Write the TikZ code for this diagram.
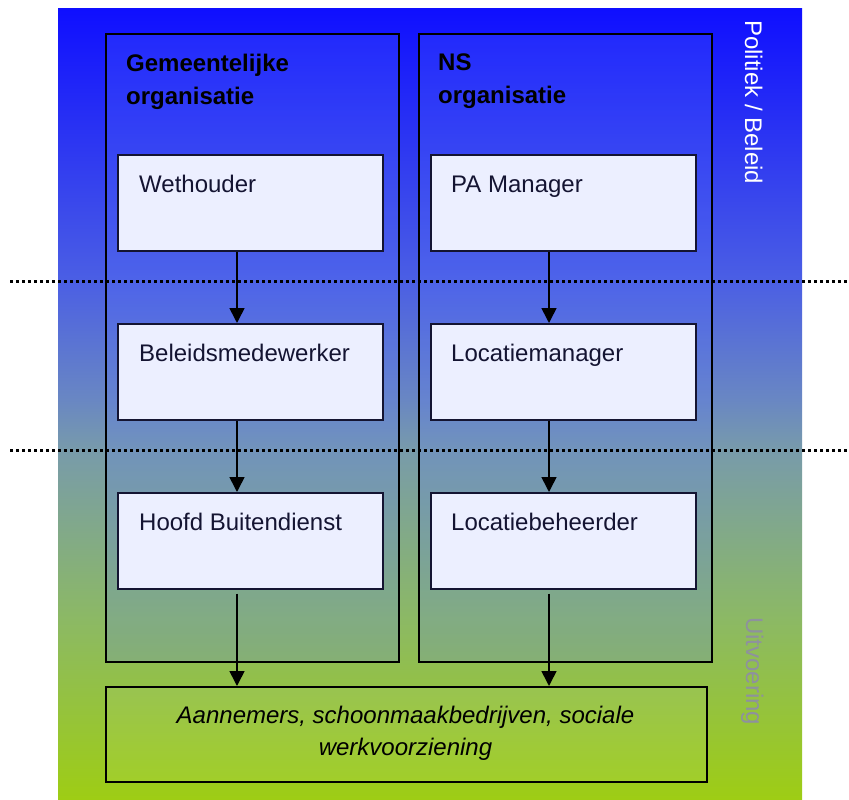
\documentclass[tikz,border=0pt]{standalone}
\usepackage{fontspec}
\setmainfont{Liberation Sans}
\usetikzlibrary{arrows.meta}
\definecolor{bgA}{RGB}{158,205,20}
\definecolor{bgB}{RGB}{140,185,100}
\definecolor{bgC}{RGB}{120,155,170}
\definecolor{bgC2}{RGB}{105,135,195}
\definecolor{bgD}{RGB}{75,95,228}
\definecolor{bgE}{RGB}{15,15,255}
\definecolor{colfill}{RGB}{90,120,255}
\definecolor{rolefill}{RGB}{236,239,255}
\definecolor{roletext}{RGB}{20,20,50}
\definecolor{uitcol}{RGB}{142,145,158}
\pgfdeclareverticalshading{bgshade}{100bp}{color(0bp)=(bgA); color(25bp)=(bgA); color(36.4bp)=(bgB); color(47.1bp)=(bgC); color(50.3bp)=(bgC2); color(57.8bp)=(bgD); color(75bp)=(bgE); color(100bp)=(bgE)}
\newcommand\myfs{\fontsize{24}{33.5}\selectfont}
\newcommand\myfsb{\fontsize{24}{32.3}\selectfont}
\tikzset{
  col/.style={draw=black, line width=1.6pt, fill=colfill, fill opacity=0.2, text opacity=1, minimum width=293pt, minimum height=628pt, anchor=north west, inner sep=0pt},
  role/.style={draw=roletext, line width=1.5pt, fill=rolefill, minimum width=265pt, minimum height=96pt, anchor=north west, inner sep=0pt},
  roletxt/.style={anchor=base west, inner sep=0pt, text=roletext, font=\myfs},
  ttl/.style={anchor=north west, inner sep=0pt, align=left, font=\myfs\bfseries},
  arr/.style={draw=black, line width=1.6pt, -{Triangle[length=15pt,width=15pt]}},
  sep/.style={draw=black, line width=3pt, dash pattern=on 3pt off 3pt},
  bottombox/.style={draw=black, line width=2pt, fill=white, fill opacity=0.06, minimum width=601pt, minimum height=95pt, anchor=north west, inner sep=0pt}
}
\begin{document}
\begin{tikzpicture}[x=1pt,y=-1pt]
\useasboundingbox (0,0) rectangle (849,800);
\shade[shading=bgshade] (58,9) rectangle (802,800);
% columns
\node[col] (colL) at (105,33) {};
\node[col] (colR) at (418,33) {};
\node[ttl] (tL) at (126,53.5) {Gemeentelijke\\organisatie};
\node[ttl] (tR) at (438,53.5) {NS\\organisatie};
% role boxes
\node[role] (l1) at (117,154) {};
\node[role] (l2) at (117,323) {};
\node[role] (l3) at (117,492) {};
\node[role] (r1) at (430,154) {};
\node[role] (r2) at (430,323) {};
\node[role] (r3) at (430,492) {};
\node[roletxt] (l1t) at (139,192.5) {Wethouder};
\node[roletxt] (l2t) at (139,361.5) {Beleidsmedewerker};
\node[roletxt] (l3t) at (139,530.5) {Hoofd Buitendienst};
\node[roletxt] (r1t) at (451,192.5) {PA Manager};
\node[roletxt] (r2t) at (451,361.5) {Locatiemanager};
\node[roletxt] (r3t) at (451,530.5) {Locatiebeheerder};
% bottom box
\node[bottombox] (ab) at (105,686) {};
\node[align=center, inner sep=0pt, font=\myfsb\itshape, text=black] (abt) at (405.5,733.5) {Aannemers, schoonmaakbedrijven, sociale\\werkvoorziening};
% side labels
\node[rotate=-90, anchor=base west, inner sep=0pt, text=white, font=\myfs] (pol) at (745,20) {Politiek / Beleid};
\node[rotate=-90, anchor=base west, inner sep=0pt, text=uitcol, font=\myfs] (uit) at (746,617) {Uitvoering};
% dotted separators
\coordinate (s1a) at (10,281); \coordinate (s1b) at (849,281);
\coordinate (s2a) at (10,450); \coordinate (s2b) at (849,450);
\draw[sep] (s1a) -- (s1b);
\draw[sep] (s2a) -- (s2b);
% arrows
\coordinate (la) at (237,0);
\coordinate (ra) at (549,0);
\draw[arr] (l1.south -| la) -- (l2.north -| la);
\draw[arr] (l2.south -| la) -- (l3.north -| la);
\draw[arr, shorten <=4pt] (l3.south -| la) -- (ab.north -| la);
\draw[arr] (r1.south -| ra) -- (r2.north -| ra);
\draw[arr] (r2.south -| ra) -- (r3.north -| ra);
\draw[arr, shorten <=4pt] (r3.south -| ra) -- (ab.north -| ra);
\end{tikzpicture}
\end{document}
